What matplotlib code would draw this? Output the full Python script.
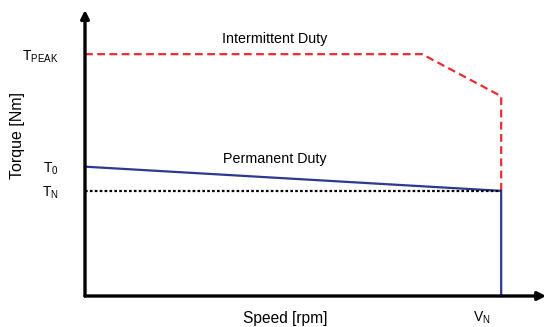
import matplotlib.pyplot as plt

plt.rcParams['font.family'] = ['Liberation Sans', 'DejaVu Sans']
plt.rcParams['mathtext.fontset'] = 'custom'
plt.rcParams['mathtext.rm'] = 'Liberation Sans'
plt.rcParams['mathtext.it'] = 'Liberation Sans'

# characteristic points (speed in % of V_N, torque in units of T_N)
v_n = 100
t_n = 1.0
t_0 = 1.23
t_peak = 2.30
knee_speed = 81
t_peak_end = 1.90

intermittent_speed = [0, knee_speed, v_n, v_n]
intermittent_torque = [t_peak, t_peak, t_peak_end, t_n]
permanent_speed = [0, v_n, v_n]
permanent_torque = [t_0, t_n, 0]

ytick_values = [t_n, t_0, t_peak]
ytick_labels = [r'$\mathregular{T_N}$', r'$\mathregular{T_0}$', r'$\mathregular{T_{PEAK}}$']

fig = plt.figure(figsize=(5.47, 3.27), dpi=100)
ax = fig.add_axes([0.1554, 0.0948, 0.843, 0.8746])

ax.plot(intermittent_speed, intermittent_torque, color='#ee2a32', lw=1.6,
        dashes=(3.5, 2), clip_on=False)
ax.plot(permanent_speed, permanent_torque, color='#2b3990', lw=1.6, clip_on=False)
ax.plot([0, v_n], [t_n, t_n], color='black', lw=1.6, dashes=(1.2, 1), clip_on=False)

ax.set_xlim(0, 110.8)
ax.set_ylim(0, 2.72)
for s in ax.spines.values():
    s.set_visible(False)

# axes with arrows
ax.annotate('', xy=(1.0, 0), xytext=(0, 0), xycoords='axes fraction',
            arrowprops=dict(arrowstyle='-|>', lw=2.4, color='black',
                            mutation_scale=12, shrinkA=0, shrinkB=0))
ax.annotate('', xy=(0, 1.0), xytext=(0, 0), xycoords='axes fraction',
            arrowprops=dict(arrowstyle='-|>', lw=2.4, color='black',
                            mutation_scale=12, shrinkA=0, shrinkB=0))

ax.set_xticks([])
ax.set_yticks(ytick_values)
ax.set_yticklabels(ytick_labels, fontsize=10)
ax.tick_params(axis='y', length=0, pad=19)

ax.annotate(r'$\mathregular{V_N}$', xy=(v_n, 0), xytext=(-14, -16),
            textcoords='offset points', ha='center', va='center', fontsize=10)

ax.text(knee_speed / 2 + 5, t_peak + 0.14, 'Intermittent Duty', ha='center',
        va='center', fontsize=10.3)
ax.text(knee_speed / 2 + 5, t_0 + 0.07, 'Permanent Duty', ha='center',
        va='center', fontsize=10.3)

ax.set_xlabel('Speed [rpm]', fontsize=11.2)
ax.xaxis.set_label_coords(0.434, -0.054)
ax.set_ylabel('Torque [Nm]', fontsize=11.5)
ax.yaxis.set_label_coords(-0.131, 0.56)

fig.savefig('out.png', dpi=100)
